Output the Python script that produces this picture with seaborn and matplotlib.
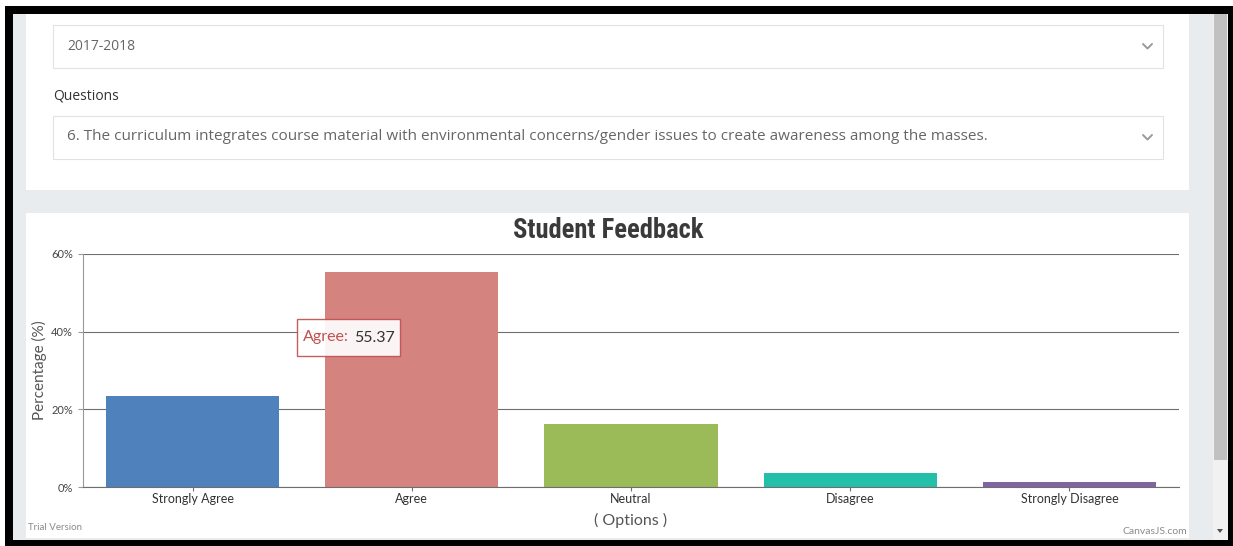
import matplotlib
matplotlib.use("Agg")
import matplotlib.pyplot as plt
from matplotlib import font_manager
from matplotlib.patches import Rectangle, Polygon
from matplotlib.lines import Line2D
import seaborn as sns
import pandas as pd

# data
options = ["Strongly Agree", "Agree", "Neutral", "Disagree", "Strongly Disagree"]
percentages = [23.4, 55.37, 16.1, 3.5, 1.2]
bar_colors = ["#4F81BC", "#D4837F", "#9BBB58", "#23BFAA", "#8064A1"]
y_ticks = [0, 20, 40, 60]
y_tick_labels = ["0%", "20%", "40%", "60%"]
session = "2017-2018"
question = ("6. The curriculum integrates course material with environmental "
            "concerns/gender issues to create awareness among the masses.")
hover_option = "Agree"

W, H = 1233, 546

sns.set_theme(style="white")
plt.rcParams["font.family"] = ["Lato", "DejaVu Sans"]

fig = plt.figure(figsize=(W / 100, H / 100), dpi=100)
fig.patch.set_facecolor("white")


def px_box(x0, y0, x1, y1, z=-5, **kw):
    # rectangle given in screenshot pixels (top-left origin)
    r = Rectangle((x0 / W, 1 - y1 / H), (x1 - x0) / W, (y1 - y0) / H,
                  transform=fig.transFigure, zorder=z, **kw)
    fig.add_artist(r)


def px_text(x, y, s, **kw):
    return fig.text(x / W, 1 - y / H, s, **kw)


# page frame / panels
px_box(5, 6, 1233, 546, facecolor="black", lw=0, z=-10)
px_box(13, 14, 1228, 540, facecolor="#e9ecef", lw=0, z=-9)
px_box(26, 14, 1189, 190, facecolor="white", lw=0, z=-8)
px_box(26, 213, 1189, 538, facecolor="white", lw=0, z=-8)

# scrollbar
px_box(1213, 14, 1228, 540, facecolor="#f1f1f1", lw=0, z=-7)
px_box(1214, 14, 1227, 460, facecolor="#c1c1c1", lw=0, z=-6)
fig.add_artist(Polygon([(1217 / W, 1 - 529 / H), (1223 / W, 1 - 529 / H), (1220 / W, 1 - 533 / H)],
                       closed=True, facecolor="#505050", lw=0, transform=fig.transFigure, zorder=-5))

# dropdowns
ui_font = ["Open Sans", "DejaVu Sans"]
px_box(53, 25, 1163, 68, facecolor="white", edgecolor="#e2e2e2", lw=0.8, z=-7)
px_box(53, 116, 1163, 159, facecolor="white", edgecolor="#e2e2e2", lw=0.8, z=-7)
px_text(67, 46, session, fontsize=10, color="#666666", va="center", family=ui_font)
px_text(53, 96, "Questions", fontsize=10, color="#333333", va="center", family=ui_font)
px_text(67, 137, question, fontsize=11, color="#666666", va="center", family=ui_font)
for cy in (46, 137):
    fig.add_artist(Line2D([1143 / W, 1147.5 / W, 1152 / W],
                          [1 - (cy - 2) / H, 1 - (cy + 2.5) / H, 1 - (cy - 2) / H],
                          color="#9a9a9a", lw=1.4, transform=fig.transFigure))

# chart
ax = fig.add_axes([83 / W, 59 / H, 1096 / W, 233 / H])
ax.set_facecolor("white")
df = pd.DataFrame({"option": options, "pct": percentages})
sns.barplot(data=df, x="option", y="pct", hue="option", palette=bar_colors,
            saturation=1, width=0.79, legend=False, ax=ax, linewidth=0)

ax.set_xlim(-0.5, len(options) - 0.5)
ax.set_ylim(0, 60)
ax.set_yticks(y_ticks)
ax.set_yticklabels(y_tick_labels)
ax.yaxis.grid(True, color="#6e6e6e", lw=0.8)
ax.set_axisbelow(True)
sns.despine(ax=ax)
ax.spines["left"].set_color("#9a9a9a")
ax.spines["left"].set_linewidth(0.8)
ax.spines["bottom"].set_color("#6e6e6e")
ax.spines["bottom"].set_linewidth(0.8)
ax.tick_params(axis="y", left=True, length=3.6, width=0.8, color="#9a9a9a",
               labelsize=8, labelcolor="#444444", pad=3.6)
ax.tick_params(axis="x", bottom=True, length=3, width=0.8, color="#6e6e6e",
               labelsize=9, labelcolor="#333333", pad=1)

ax.set_xlabel("( Options )", fontsize=11.5, color="#555555")
ax.set_ylabel("Percentage (%)", fontsize=11, color="#555555")
ax.xaxis.set_label_coords(0.5, -0.11)
ax.yaxis.set_label_coords(-36 / 1096, 0.5)

# title: the original uses an Impact-like face, take the narrowest one we have
installed = {f.name for f in font_manager.fontManager.ttflist}
title_family = next((n for n in ["Roboto Condensed", "Liberation Sans Narrow",
                                 "Open Sans Condensed"] if n in installed), "DejaVu Sans")
title = px_text(608, 230.5, "Student Feedback", ha="center", va="center", fontsize=20,
                fontweight="heavy", fontstretch="condensed", color="#3a3a3a",
                family=title_family)
fig.canvas.draw()
tw = title.get_window_extent().width
title.set_fontsize(20 * 190 / tw)

# hover tooltip
i = options.index(hover_option)
px_box(297, 319, 400, 356, facecolor="white", alpha=0.92, edgecolor="#C0504E", lw=1, z=5)
px_text(303, 337.5, hover_option + ":", fontsize=11.5, color="#C0504E", va="center", zorder=6)
px_text(395, 337.5, f"{percentages[i]:.2f}", fontsize=11.5, color="#333333",
        va="center", ha="right", zorder=6)

px_text(28, 528, "Trial Version", fontsize=7, color="#8a8a8a", va="center")
px_text(1187, 531, "CanvasJS.com", fontsize=7.5, color="#8a8a8a", va="center", ha="right")

fig.savefig("out.png", dpi=100)
